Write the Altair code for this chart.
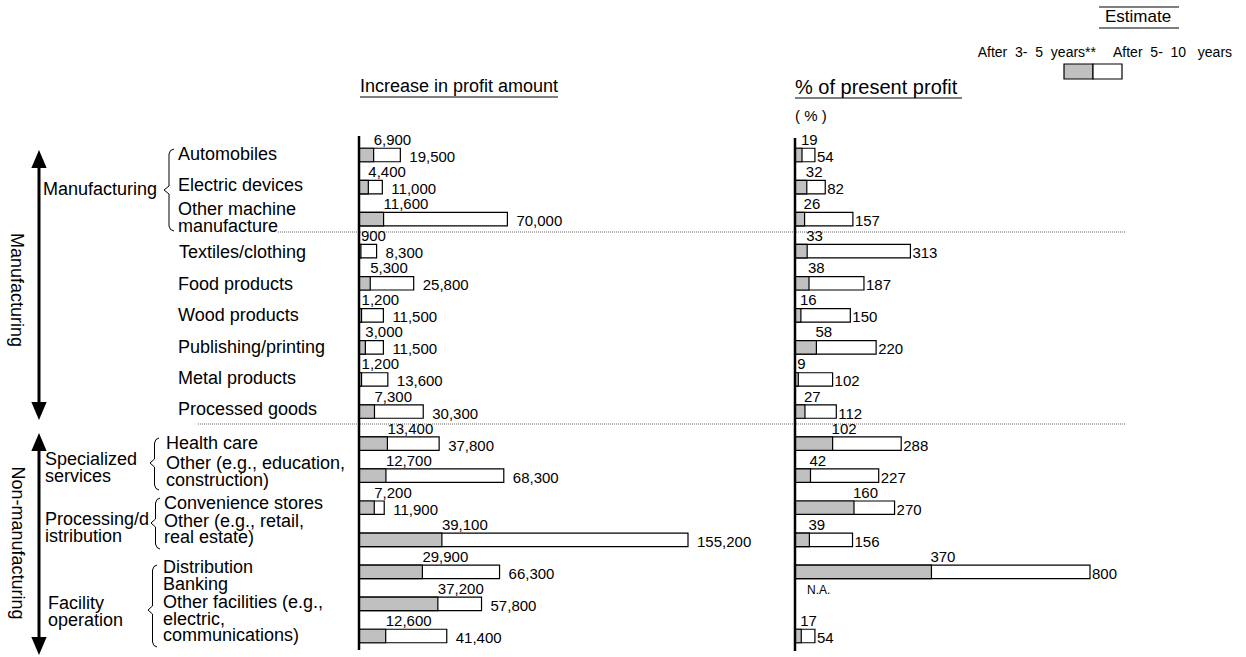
import altair as alt
import pandas as pd

FONT = "Liberation Sans"
NB = "\u00a0"

# ---------------- data ----------------
categories = [
    "Automobiles", "Electric devices", "Other machine manufacture",
    "Textiles/clothing", "Food products", "Wood products",
    "Publishing/printing", "Metal products", "Processed goods",
    "Health care", "Other (e.g., education, construction)",
    "Convenience stores", "Other (e.g., retail, real estate)",
    "Distribution", "Banking",
    "Other facilities (e.g., electric, communications)",
]
amount_3to5 = [6900, 4400, 11600, 900, 5300, 1200, 3000, 1200, 7300,
               13400, 12700, 7200, 39100, 29900, 37200, 12600]
amount_5to10 = [19500, 11000, 70000, 8300, 25800, 11500, 11500, 13600, 30300,
                37800, 68300, 11900, 155200, 66300, 57800, 41400]
pct_3to5 = [19, 32, 26, 33, 38, 16, 58, 9, 27,
            102, 42, 160, 39, 370, None, 17]
pct_5to10 = [54, 82, 157, 313, 187, 150, 220, 102, 112,
             288, 227, 270, 156, 800, None, 54]

# ---------------- layout ----------------
ROW_RANGE = [155, 636]
AMT_RANGE = [359, 688]
PCT_RANGE = [795, 1090]
GRAY = "#c0c0c0"

rows = pd.DataFrame({
    "row": list(range(len(categories))),
    "category": categories,
    "a35": amount_3to5, "a510": amount_5to10,
    "p35": pct_3to5, "p510": pct_5to10,
})
pct_rows = rows.dropna(subset=["p35"]).copy()

yscale = alt.Scale(domain=[0, 15], range=ROW_RANGE, nice=False, zero=False)
ascale = alt.Scale(domain=[0, 155200], range=AMT_RANGE, nice=False, zero=True)
pscale = alt.Scale(domain=[0, 800], range=PCT_RANGE, nice=False, zero=True)


def bars(data, field, scale, fill):
    return alt.Chart(data).transform_calculate(
        z="0", y0="datum.row - 0.21", y1="datum.row + 0.21"
    ).mark_rect(fill=fill, stroke="black", strokeWidth=1.2).encode(
        x=alt.X(f"{field}:Q", scale=scale, axis=None),
        x2=alt.X2("z"),
        y=alt.Y("y0:Q", scale=yscale, axis=None),
        y2=alt.Y2("y1"),
    )


def values(data, field, scale, fmt, dx, dy):
    return alt.Chart(data).mark_text(
        align="left", baseline="middle", dx=dx, dy=dy, fontSize=15,
        font=FONT, color="black"
    ).encode(
        x=alt.X(f"{field}:Q", scale=scale, axis=None),
        y=alt.Y("row:Q", scale=yscale, axis=None),
        text=alt.Text(f"{field}:Q", format=fmt),
    )


# annotation texts: text, x, y, size
left_texts = [
    ("Manufacturing", 43, 190, 18), ("Automobiles", 178, 155, 18),
    ("Electric devices", 178, 186, 18), ("Other machine", 178, 210, 18),
    ("manufacture", 178, 227, 18), ("Textiles/clothing", 179, 253, 18),
    ("Food products", 178, 285, 18), ("Wood products", 178, 316, 18),
    ("Publishing/printing", 178, 348, 18), ("Metal products", 178, 379, 18),
    ("Processed goods", 178, 410, 18),
    ("Specialized", 45, 460, 18), ("services", 45, 477, 18),
    ("Health care", 166, 444, 18), ("Other (e.g., education,", 166, 464, 18),
    ("construction)", 166, 481, 18),
    ("Processing/d", 45, 520, 18), ("istribution", 45, 537, 18),
    ("Convenience stores", 164, 504, 18), ("Other (e.g., retail,", 164, 522, 18),
    ("real estate)", 164, 538, 18),
    ("Facility", 48, 604, 18), ("operation", 48, 621, 18),
    ("Distribution", 163, 568, 18), ("Banking", 163, 585, 18),
    ("Other facilities (e.g.,", 163, 603, 18), ("electric,", 163, 620, 18),
    ("communications)", 163, 636, 18),
    ("Increase in profit amount", 360, 87, 18),
    ("% of present profit", 795, 88, 20),
    ("( % )", 795, 116, 15),
    ("N.A.", 807, 590, 12),
    ("Estimate", 1105, 17, 17),
    (f"After{NB}{NB}5-{NB}{NB}10{NB}{NB}{NB}years", 1113, 53, 14),
]
right_texts = [(f"After{NB}{NB}3-{NB}{NB}5{NB}{NB}years**", 1096, 53, 14)]
rot_texts = [("Manufacturing", 16, 290, 18), ("Non-manufacturing", 17, 543, 18)]


def text_layer(items, align, angle=0):
    df = pd.DataFrame(items, columns=["t", "x", "y", "s"])
    return alt.Chart(df).mark_text(
        align=align, baseline="middle", font=FONT, color="black", angle=angle
    ).encode(
        x=alt.X("x:Q", scale=None), y=alt.Y("y:Q", scale=None),
        text="t:N", size=alt.Size("s:Q", scale=None, legend=None),
    )


# straight rules: x, x2, y, y2, width
solid_rules = pd.DataFrame([
    (359, 359, 136, 650, 2.5), (795, 795, 138, 651, 2.5),
    (39, 39, 160, 410, 3), (39, 39, 443, 645, 3),
    (360, 558, 97, 97, 1.2), (795, 962, 98, 98, 1.2),
    (1099, 1179, 7, 7, 1.2), (1099, 1179, 28, 28, 1.2),
], columns=["x", "x2", "y", "y2", "w"])
rules = alt.Chart(solid_rules).mark_rule(color="black").encode(
    x=alt.X("x:Q", scale=None), x2="x2:Q",
    y=alt.Y("y:Q", scale=None), y2="y2:Q",
    strokeWidth=alt.StrokeWidth("w:Q", scale=None, legend=None),
)
dotted_df = pd.DataFrame([(278, 1126, 232), (198, 1126, 424)], columns=["x", "x2", "y"])
dotted = alt.Chart(dotted_df).mark_rule(color="#666666", strokeWidth=1, strokeDash=[1, 1]).encode(
    x=alt.X("x:Q", scale=None), x2="x2:Q", y=alt.Y("y:Q", scale=None),
)

# arrow heads
heads_up = pd.DataFrame([(39, 159), (39, 442)], columns=["x", "y"])
heads_dn = pd.DataFrame([(39, 411), (39, 646)], columns=["x", "y"])


def heads(df, path):
    return alt.Chart(df).mark_point(
        shape=path, filled=True, fill="black", stroke="black", strokeWidth=0, size=324, opacity=1
    ).encode(x=alt.X("x:Q", scale=None), y=alt.Y("y:Q", scale=None))


# braces: x_end, x_tip, y_top, y_mid, y_bot
brace_specs = [(174, 164, 149, 190, 231), (159, 150, 438, 463, 490),
               (160, 151, 498, 523, 549), (157, 148, 565, 610, 647)]
bpts = []
for i, (xe, xt, yt, ym, yb) in enumerate(brace_specs):
    xm = (xe + xt) / 2
    pts = [(xe, yt), (xm + 1.5, yt + 1.5), (xm, yt + 5), (xm, ym - 4), (xt, ym),
           (xm, ym + 4), (xm, yb - 5), (xm + 1.5, yb - 1.5), (xe, yb)]
    for k, (px, py) in enumerate(pts):
        bpts.append({"b": i, "k": k, "x": px, "y": py})
braces = alt.Chart(pd.DataFrame(bpts)).mark_line(color="black", strokeWidth=1).encode(
    x=alt.X("x:Q", scale=None), y=alt.Y("y:Q", scale=None),
    detail="b:N", order="k:Q",
)

# legend boxes
leg_df = pd.DataFrame([(1064, 1093, 64, 79, "g"), (1093, 1122, 64, 79, "w")],
                      columns=["x", "x2", "y", "y2", "c"])
legend_boxes = alt.Chart(leg_df).mark_rect(stroke="black", strokeWidth=1.2).encode(
    x=alt.X("x:Q", scale=None), x2="x2:Q", y=alt.Y("y:Q", scale=None), y2="y2:Q",
    fill=alt.Fill("c:N", scale=alt.Scale(domain=["g", "w"], range=[GRAY, "white"]), legend=None),
)

chart = alt.layer(
    dotted,
    bars(rows, "a510", ascale, "white"),
    bars(rows, "a35", ascale, GRAY),
    bars(pct_rows, "p510", pscale, "white"),
    bars(pct_rows, "p35", pscale, GRAY),
    values(rows, "a35", ascale, ",d", 0, -15),
    values(rows, "a510", ascale, ",d", 9, 2),
    values(pct_rows, "p35", pscale, "d", -1, -15),
    values(pct_rows, "p510", pscale, "d", 2, 2),
    rules,
    heads(heads_up, "M0,-1L0.85,1L-0.85,1Z"),
    heads(heads_dn, "M0,1L0.85,-1L-0.85,-1Z"),
    braces,
    legend_boxes,
    text_layer(left_texts, "left"),
    text_layer(right_texts, "right"),
    text_layer(rot_texts, "center", 90),
).resolve_scale(x="independent").properties(
    width=1246, height=657, padding=0,
    autosize=alt.AutoSizeParams(type="none"),
    background="white",
).configure_view(stroke=None)

chart.save("out.html", embed_options={"renderer": "svg", "actions": False})
